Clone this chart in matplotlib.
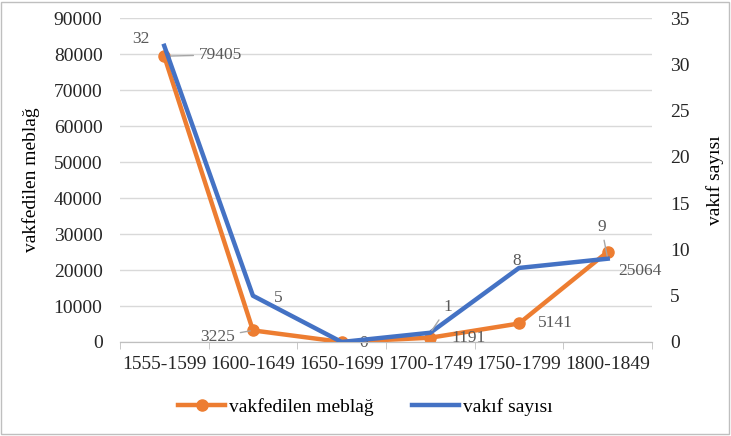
import matplotlib.pyplot as plt
from matplotlib.patches import Rectangle

plt.rcParams['font.family'] = ['Liberation Serif', 'DejaVu Serif']

# periods and values
periods = ['1555-1599', '1600-1649', '1650-1699', '1700-1749', '1750-1799', '1800-1849']
amount = [79405, 3225, 0, 1191, 5141, 25064]   # vakfedilen meblağ (left axis)
count = [32, 5, 0, 1, 8, 9]                     # vakıf sayısı (right axis)

orange = '#ED7D31'
blue = '#4472C4'
grey_txt = '#595959'
tick_txt = '#262626'

fig = plt.figure(figsize=(7.31, 4.36), dpi=100)
ax = fig.add_axes([0.164, 0.2156, 0.728, 0.743])
ax2 = ax.twinx()

x = list(range(len(periods)))
ax.plot(x, amount, color=orange, lw=3.2, marker='o', ms=8, zorder=3)
ax2.plot(x, count, color=blue, lw=3.2, zorder=3)

ax.set_xlim(-0.5, 5.5)
ax.set_ylim(0, 90000)
ax.set_yticks(range(0, 90001, 10000))
ax2.set_ylim(0, 35)
ax2.set_yticks(range(0, 36, 5))

ax.set_xticks(x)
ax.set_xticklabels(periods)
ax.set_xticks([i - 0.5 for i in range(len(periods) + 1)], minor=True)
ax.tick_params(axis='x', which='major', length=0, pad=10, labelsize=14, labelcolor=tick_txt)
ax.tick_params(axis='x', which='minor', length=5, color='#BFBFBF')
ax.tick_params(axis='y', length=0, labelsize=14, pad=12.5, labelcolor=tick_txt)
ax2.tick_params(axis='y', length=0, labelsize=14, pad=13, labelcolor=tick_txt)

ax.grid(axis='y', color='#D9D9D9', lw=1)
ax.set_axisbelow(True)
for a in (ax, ax2):
    for s in ('top', 'left', 'right'):
        a.spines[s].set_visible(False)
    a.spines['bottom'].set_color('#BFBFBF')

ax.set_ylabel('vakfedilen meblağ', fontsize=14, labelpad=10)
ax2.set_ylabel('vakıf sayısı', fontsize=14, labelpad=12)

# data labels
amt_off = [(25, 1), (-13, -4.5), (16, -1), (15, 0), (13.5, 0), (7.5, -14)]
amt_ha = ['left', 'right', 'center', 'left', 'left', 'left']
for i, v in enumerate(amount):
    ax.annotate(str(v), (x[i], v), xytext=amt_off[i], textcoords='offset points',
                ha=amt_ha[i], va='center', fontsize=12.5, color=grey_txt,
                arrowprops=dict(arrowstyle='-', color='#A6A6A6', lw=1) if i in (0, 1) else None)

cnt_off = [(-17, 5), (18, -1.5), None, (12.5, 18.5), (-2, 5), (-4.5, 23)]
for i, v in enumerate(count):
    if cnt_off[i] is None:
        continue
    ax2.annotate(str(v), (x[i], v), xytext=cnt_off[i], textcoords='offset points',
                 ha='center', va='center', fontsize=12.5, color=grey_txt,
                 arrowprops=dict(arrowstyle='-', color='#A6A6A6', lw=1) if i in (3, 5) else None)

# legend
h1, = ax.plot([], [], color=orange, lw=3.2, marker='o', ms=8)
h2, = ax.plot([], [], color=blue, lw=3.2)
fig.legend([h1, h2], ['vakfedilen meblağ', 'vakıf sayısı'], loc='center',
           bbox_to_anchor=(0.5, 0.066), ncol=2, frameon=False, fontsize=14,
           handlelength=2.4, handletextpad=0.2, columnspacing=2.0)

fig.add_artist(Rectangle((0.002, 0.004), 0.995, 0.992, transform=fig.transFigure,
                         fill=False, edgecolor='#BFBFBF', lw=1))

fig.savefig('out.png', dpi=100)
